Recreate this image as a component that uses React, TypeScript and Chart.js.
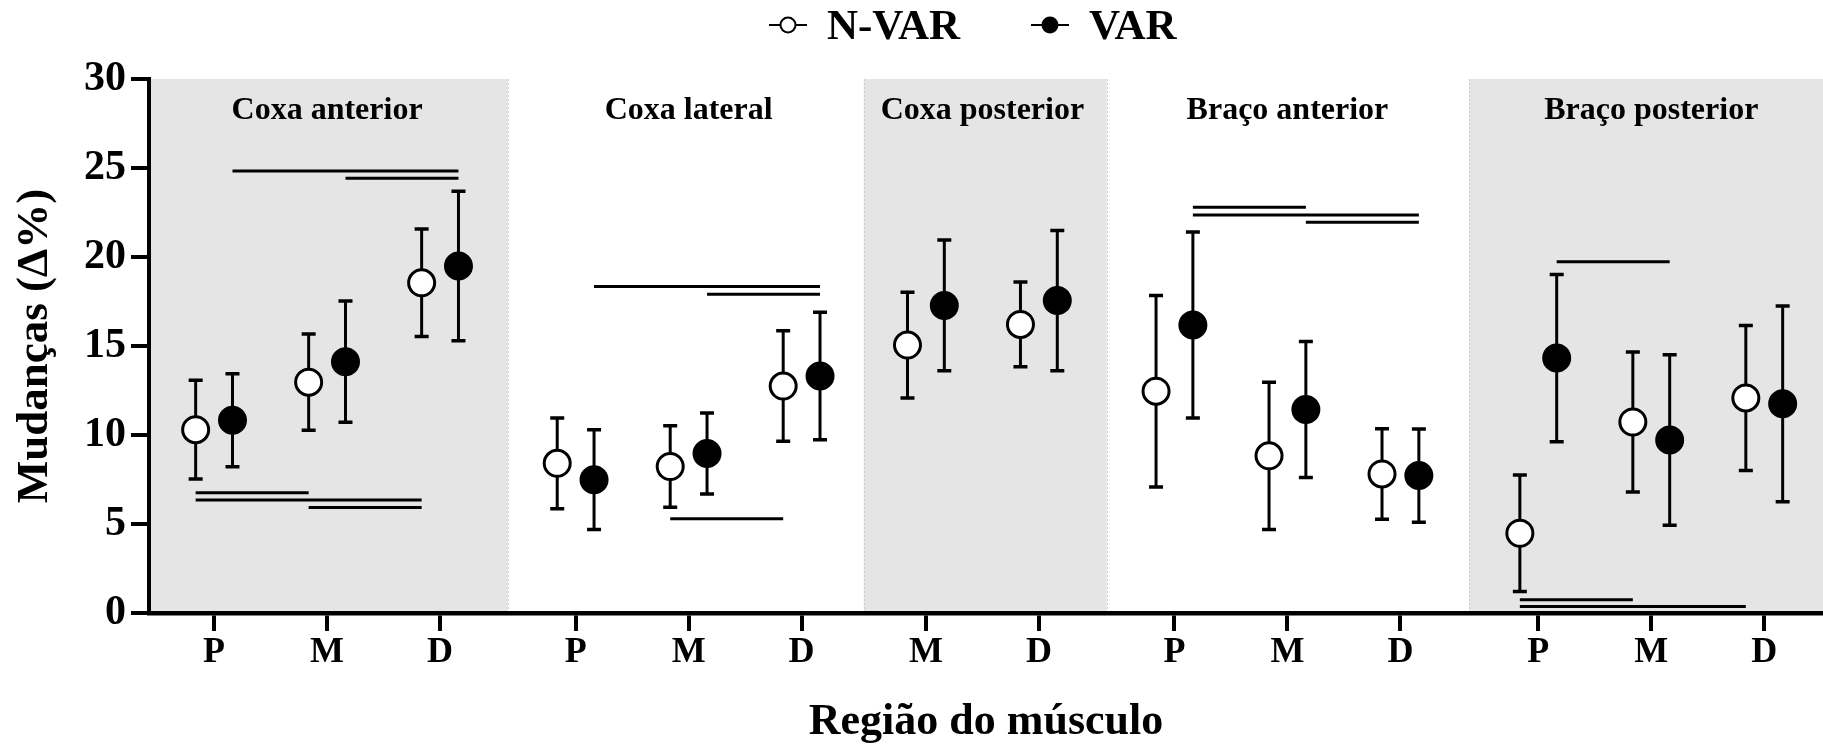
import React, { useEffect, useRef } from 'react';
import { Chart, registerables } from 'chart.js';

Chart.register(...registerables);

// ---------- data ----------
const groupTitles = ['Coxa anterior', 'Coxa lateral', 'Coxa posterior', 'Braço anterior', 'Braço posterior'];
const groupOf = [0, 0, 0, 1, 1, 1, 2, 2, 3, 3, 3, 4, 4, 4];
const catLabels = ['P', 'M', 'D', 'P', 'M', 'D', 'M', 'D', 'P', 'M', 'D', 'P', 'M', 'D'];
const catSlots = [0, 1, 2, 3.2, 4.2, 5.2, 6.3, 7.3, 8.5, 9.5, 10.5, 11.72, 12.72, 13.72];
const shadedGroups = [0, 2, 4];

const seriesNames = ['N-VAR', 'VAR'];
const nvarMean = [10.3, 12.97, 18.55, 8.41, 8.23, 12.75, 15.05, 16.21, 12.46, 8.83, 7.81, 4.48, 10.73, 12.08];
const nvarSD = [2.77, 2.71, 3.02, 2.55, 2.29, 3.1, 2.97, 2.38, 5.38, 4.14, 2.54, 3.27, 3.93, 4.07];
const varMean = [10.83, 14.12, 19.49, 7.49, 8.96, 13.32, 17.28, 17.55, 16.18, 11.43, 7.72, 14.32, 9.72, 11.75];
const varSD = [2.61, 3.41, 4.2, 2.8, 2.27, 3.58, 3.67, 3.94, 5.23, 3.82, 2.62, 4.7, 4.79, 5.5];

// significance bars: [fromCategory, toCategory, seriesIndex (0 = N-VAR, 1 = VAR), level]
const compFrom = [0, 0, 1, 0, 1, 3, 4, 4, 8, 8, 9, 11, 11, 11];
const compTo = [1, 2, 2, 2, 2, 5, 5, 5, 9, 10, 10, 12, 12, 13];
const compSeries = [0, 0, 0, 1, 1, 1, 1, 0, 1, 1, 1, 1, 0, 0];
const compLevel = [6.76, 6.35, 5.92, 24.83, 24.42, 18.34, 17.91, 5.29, 22.79, 22.36, 21.95, 19.74, 0.75, 0.37];

const yTicks = [0, 5, 10, 15, 20, 25, 30];

// ---------- layout / style ----------
const W = 1823;
const H = 749;
const SERIES_OFFSET = 0.163;
const FONT = '"Liberation Serif", "Times New Roman", serif';
const SHADE = '#e5e5e5';

const seriesOffset = (s: number) => (s === 0 ? -SERIES_OFFSET : SERIES_OFFSET);

function groupBounds(x: any, ca: any) {
  const out: number[][] = [];
  for (let g = 0; g < groupTitles.length; g++) {
    const idx = groupOf.map((gg, i) => (gg === g ? i : -1)).filter((i) => i >= 0);
    const first = idx[0];
    const last = idx[idx.length - 1];
    const left = first === 0 ? ca.left : x.getPixelForValue((catSlots[first - 1] + catSlots[first]) / 2);
    const right =
      last === catSlots.length - 1 ? ca.right : x.getPixelForValue((catSlots[last] + catSlots[last + 1]) / 2);
    const center = x.getPixelForValue((catSlots[first] + catSlots[last]) / 2);
    out.push([left, right, center]);
  }
  return out;
}

const decorPlugin = {
  id: 'decor',
  beforeDraw(chart: any) {
    const { ctx, chartArea: ca, scales } = chart;
    const b = groupBounds(scales.x, ca);
    ctx.save();
    ctx.fillStyle = SHADE;
    shadedGroups.forEach((g) => {
      ctx.fillRect(b[g][0], ca.top, b[g][1] - b[g][0], ca.bottom - ca.top);
    });
    ctx.strokeStyle = '#cccccc';
    ctx.lineWidth = 1;
    ctx.setLineDash([2, 2]);
    for (let g = 1; g < b.length; g++) {
      ctx.beginPath();
      ctx.moveTo(Math.round(b[g][0]) + 0.5, ca.top);
      ctx.lineTo(Math.round(b[g][0]) + 0.5, ca.bottom);
      ctx.stroke();
    }
    ctx.restore();
  },
  beforeDatasetsDraw(chart: any) {
    const { ctx, scales } = chart;
    const x = scales.x;
    const y = scales.y;
    ctx.save();
    ctx.strokeStyle = '#000';
    ctx.lineCap = 'butt';
    // error bars
    const means = [nvarMean, varMean];
    const sds = [nvarSD, varSD];
    for (let s = 0; s < 2; s++) {
      for (let i = 0; i < catSlots.length; i++) {
        const px = x.getPixelForValue(catSlots[i] + seriesOffset(s));
        const top = y.getPixelForValue(means[s][i] + sds[s][i]);
        const bot = y.getPixelForValue(means[s][i] - sds[s][i]);
        ctx.lineWidth = 3;
        ctx.beginPath();
        ctx.moveTo(px, top);
        ctx.lineTo(px, bot);
        ctx.stroke();
        ctx.lineWidth = 3.5;
        ctx.beginPath();
        ctx.moveTo(px - 7, top);
        ctx.lineTo(px + 7, top);
        ctx.moveTo(px - 7, bot);
        ctx.lineTo(px + 7, bot);
        ctx.stroke();
      }
    }
    // significance bars
    ctx.lineWidth = 3;
    for (let k = 0; k < compFrom.length; k++) {
      const x1 = x.getPixelForValue(catSlots[compFrom[k]] + seriesOffset(compSeries[k]));
      const x2 = x.getPixelForValue(catSlots[compTo[k]] + seriesOffset(compSeries[k]));
      const py = y.getPixelForValue(compLevel[k]);
      ctx.beginPath();
      ctx.moveTo(x1, py);
      ctx.lineTo(x2, py);
      ctx.stroke();
    }
    ctx.restore();
  },
  afterDraw(chart: any) {
    const { ctx, chartArea: ca, scales } = chart;
    const b = groupBounds(scales.x, ca);
    ctx.save();
    // panel titles
    ctx.fillStyle = '#000';
    ctx.font = `bold 32px ${FONT}`;
    ctx.textAlign = 'center';
    ctx.textBaseline = 'alphabetic';
    groupTitles.forEach((t, g) => ctx.fillText(t, b[g][2], 119));
    // legend
    ctx.font = `bold 43px ${FONT}`;
    ctx.textAlign = 'left';
    let lx = 769;
    const ly = 25;
    seriesNames.forEach((name, s) => {
      ctx.strokeStyle = '#000';
      ctx.lineWidth = 2;
      ctx.beginPath();
      ctx.moveTo(lx, ly);
      ctx.lineTo(lx + 38, ly);
      ctx.stroke();
      ctx.beginPath();
      ctx.arc(lx + 19, ly, 7.5, 0, Math.PI * 2);
      ctx.fillStyle = s === 0 ? '#fff' : '#000';
      ctx.fill();
      ctx.stroke();
      ctx.fillStyle = '#000';
      ctx.fillText(name, lx + 58, 39);
      lx = lx + 58 + ctx.measureText(name).width + 71;
    });
    ctx.restore();
  },
};

export default function App() {
  const ref = useRef<HTMLCanvasElement | null>(null);

  useEffect(() => {
    if (!ref.current) return;
    const means = [nvarMean, varMean];
    const chart = new Chart(ref.current, {
      type: 'scatter',
      data: {
        datasets: seriesNames.map((name, s) => ({
          label: name,
          data: catSlots.map((v, i) => ({ x: v + seriesOffset(s), y: means[s][i] })),
          pointRadius: 13,
          pointHoverRadius: 13,
          pointBorderWidth: 3,
          pointBorderColor: '#000',
          pointBackgroundColor: s === 0 ? '#ffffff' : '#000000',
          showLine: false,
          clip: false,
        })),
      },
      options: {
        animation: false,
        responsive: false,
        maintainAspectRatio: false,
        events: [],
        layout: { autoPadding: false, padding: { top: 79, left: 0, right: 0, bottom: 0 } },
        plugins: { legend: { display: false }, tooltip: { enabled: false } },
        scales: {
          x: {
            type: 'linear',
            min: -0.576,
            max: 14.24,
            afterBuildTicks: (s: any) => {
              s.ticks = catSlots.map((v) => ({ value: v }));
            },
            afterFit: (s: any) => {
              s.height = 136;
            },
            ticks: {
              callback: (_v: any, i: number) => catLabels[i],
              autoSkip: false,
              maxRotation: 0,
              minRotation: 0,
              color: '#000',
              padding: 0,
              font: { family: FONT, size: 36, weight: 'bold', lineHeight: 1.2 },
            },
            grid: { drawOnChartArea: false, drawTicks: true, tickLength: 18, lineWidth: 4, color: '#000' },
            border: { display: true, width: 4.5, color: '#000' },
            title: {
              display: true,
              text: 'Região do músculo',
              color: '#000',
              font: { family: FONT, size: 44, weight: 'bold', lineHeight: 1.15 },
              padding: { top: 0, bottom: 1 },
            },
          },
          y: {
            min: 0,
            max: 30,
            afterBuildTicks: (s: any) => {
              s.ticks = yTicks.map((v) => ({ value: v }));
            },
            afterFit: (s: any) => {
              s.width = 149;
            },
            ticks: {
              color: '#000',
              padding: 5,
              font: { family: FONT, size: 42, weight: 'bold' },
            },
            grid: { drawOnChartArea: false, drawTicks: true, tickLength: 18, lineWidth: 4, color: '#000' },
            border: { display: true, width: 4, color: '#000' },
            title: {
              display: true,
              text: 'Mudanças (Δ%)',
              color: '#000',
              font: { family: FONT, size: 45, weight: 'bold', lineHeight: 1.2 },
              padding: { top: 8, bottom: 0 },
            },
          },
        },
      },
      plugins: [decorPlugin],
    } as any);
    return () => chart.destroy();
  }, []);

  return (
    <div style={{ position: 'absolute', left: 0, top: 0, width: W, height: H, background: '#fff' }}>
      <canvas ref={ref} width={W} height={H} style={{ display: 'block', width: W, height: H }} />
    </div>
  );
}
